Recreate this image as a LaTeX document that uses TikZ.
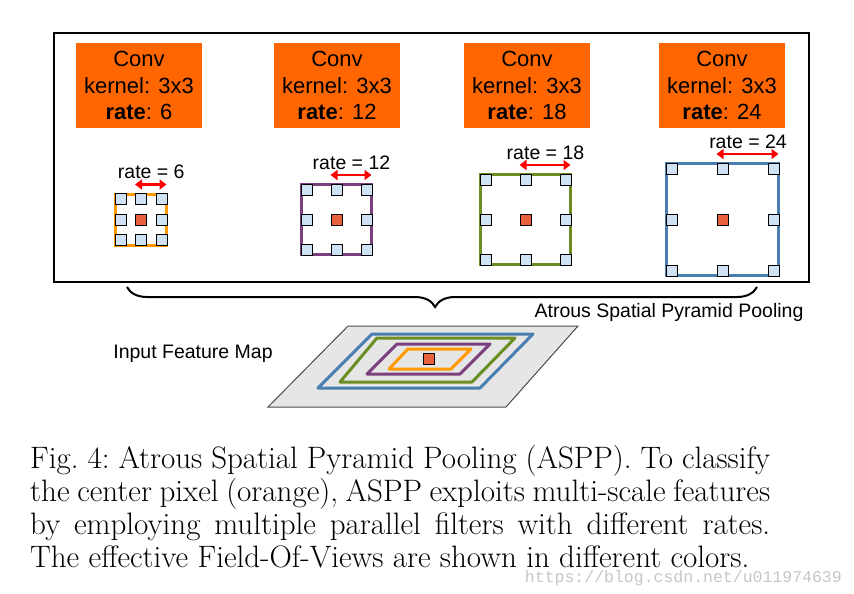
\documentclass[tikz,border=0pt]{standalone}
\usepackage{fontspec}
\newfontfamily\diagfont{Liberation Sans}
\newfontfamily\markfont{Liberation Mono}
\usetikzlibrary{arrows.meta,decorations.pathreplacing}
\definecolor{convorange}{HTML}{FF6600}
\definecolor{fovorange}{HTML}{FF9900}
\definecolor{fovpurple}{HTML}{7B3F7F}
\definecolor{fovgreen}{HTML}{6B8E23}
\definecolor{fovblue}{HTML}{4A7EB0}
\definecolor{tapblue}{HTML}{CFE2F3}
\definecolor{centrered}{HTML}{E8603C}
\definecolor{planegray}{HTML}{E6E6E6}

\begin{document}
\begin{tikzpicture}[
  x=1pt, y=-1pt,
  conv/.style={
    rectangle, fill=convorange, inner sep=0pt,
    minimum width=126pt, minimum height=85pt, align=center,
    font=\diagfont\fontsize{22}{26.5}\selectfont
  },
  fovframe/.style={rectangle, draw=#1, line width=3pt, inner sep=0pt},
  tap/.style={rectangle, draw=black, fill=tapblue, line width=0.8pt,
    minimum size=11pt, inner sep=0pt},
  centretap/.style={tap, fill=centrered},
  lbl/.style={font=\diagfont\fontsize{19.5}{22}\selectfont, inner sep=0pt},
  rarr/.style={{Triangle[length=7pt,width=10pt]}-{Triangle[length=7pt,width=10pt]},
    red, line width=2.8pt},
  fov/.style={draw=#1, line width=3pt, line join=round}
]
\useasboundingbox (0,0) rectangle (854,594);

% ASPP frame and the four parallel convolutions
\node[draw, line width=1.2pt, inner sep=0pt,
  minimum width=755pt, minimum height=249pt] (aspp) at (431.5,157.5) {};

\node[conv] (conv6) at (139,85.5) {Conv\\kernel: 3x3\\\textbf{rate}: 6};
\node[conv] (conv12) at (337,85.5) {Conv\\kernel: 3x3\\\textbf{rate}: 12};
\node[conv] (conv18) at (527,85.5) {Conv\\kernel: 3x3\\\textbf{rate}: 18};
\node[conv] (conv24) at (722,85.5) {Conv\\kernel: 3x3\\\textbf{rate}: 24};

% sampling grids, one per rate
\foreach \r/\cx/\d/\col in {6/141/20.5/fovorange, 12/336.5/30/fovpurple,
                            18/525.5/40/fovgreen, 24/722.5/51/fovblue} {
  \node[fovframe=\col, minimum size=2*\d+10] (fov\r) at (\cx,219.5) {};
  \foreach \i in {-1,0,1} {
    \foreach \j in {-1,0,1} {
      \node[tap] (tap\r\i\j) at ({\cx+\i*\d},{219.5+\j*\d}) {};
    }
  }
  \node[centretap] (centre\r) at (\cx,219.5) {};
  \coordinate (ra\r) at ({\cx-6},{219.5-\d-14.5});
  \coordinate (rb\r) at ({\cx+\d+5},{219.5-\d-14.5});
  \draw[rarr] (ra\r) -- (rb\r);
  \node[lbl] (rate\r) at ({\cx+\d/2},{219.5-\d-27}) {rate = \r};
}

% brace down to the input
\coordinate (bl) at (127,287);
\coordinate (br) at (757,287);
\draw[decorate, decoration={brace, mirror, amplitude=20pt, aspect=0.489},
  line width=2pt] (bl) -- (br);
\node[lbl] (pooling) at (669,312) {Atrous Spatial Pyramid Pooling};
\node[lbl] (input) at (193,354) {Input Feature Map};

% input feature map with the fields of view
\draw[fill=planegray, draw=black!70, line width=1pt]
  (348,326) -- (578,326) -- (506,407) -- (268,407) -- cycle;
\draw[fov=fovblue] (372,334) -- (533,334) -- (480,388) -- (318,388) -- cycle;
\draw[fov=fovgreen] (377,338) -- (515,338) -- (472,382) -- (340,382) -- cycle;
\draw[fov=fovpurple] (397,344) -- (490,344) -- (460,374) -- (367,374) -- cycle;
\draw[fov=fovorange] (408,349) -- (471,349) -- (451,369) -- (389,369) -- cycle;
\node[centretap] (pixel) at (429,359) {};

% caption
\node[anchor=north west, text width=740pt, align=justify, inner sep=0pt,
  font=\fontsize{31}{33}\selectfont\frenchspacing] (caption) at (30,445) {%
  Fig. 4: Atrous Spatial Pyramid Pooling (ASPP). To classify\linebreak
  the center pixel (orange), ASPP exploits multi-scale features\linebreak
  by employing multiple parallel filters with different rates.\linebreak
  The effective Field-Of-Views are shown in different colors.};

\node[anchor=base east, inner sep=0pt, text=gray!45,
  font=\markfont\fontsize{16.5}{18}\selectfont] (mark) at (842,582)
  {https://blog.csdn.net/u011974639};
\end{tikzpicture}
\end{document}
